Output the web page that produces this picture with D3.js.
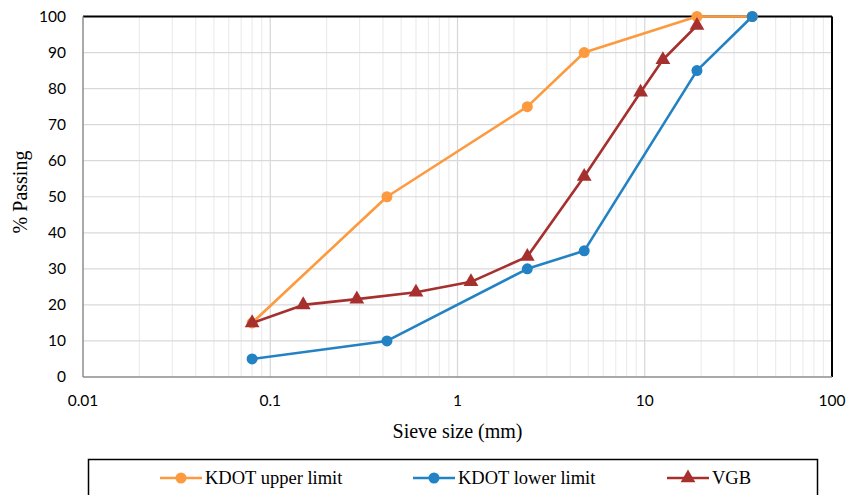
<!DOCTYPE html>
<html>
<head>
<meta charset="utf-8">
<script src="https://cdn.jsdelivr.net/npm/d3@7"></script>
<style>
  body { margin: 0; background: #fff; }
</style>
</head>
<body>
<div id="chart"></div>
<script>
// sieve sizes (mm) and % passing
var kdotSizes = [0.08, 0.42, 2.36, 4.75, 19, 37.5];
var upperLimit = [15, 50, 75, 90, 100, 100];
var lowerLimit = [5, 10, 30, 35, 85, 100];
var vgbSizes = [0.08, 0.15, 0.29, 0.6, 1.18, 2.36, 4.75, 9.5, 12.5, 19];
var vgbPassing = [15, 20, 21.6, 23.5, 26.4, 33.4, 55.6, 79, 88, 97.5];
var xTicks = [0.01, 0.1, 1, 10, 100];
var yTicks = [0, 10, 20, 30, 40, 50, 60, 70, 80, 90, 100];

var series = [
    {name: "KDOT upper limit", x: kdotSizes, y: upperLimit, color: "#fd9a3f", marker: "circle"},
    {name: "KDOT lower limit", x: kdotSizes, y: lowerLimit, color: "#2382c3", marker: "circle"},
    {name: "VGB", x: vgbSizes, y: vgbPassing, color: "#a6302e", marker: "triangle"}
];

var W = 846, H = 495;
var margin = {top: 16.5, left: 83, right: 14, bottom: 118};
var width = W - margin.left - margin.right,
    height = H - margin.top - margin.bottom;

var serif = "'Times New Roman', 'Liberation Serif', serif";
var tickFont = "Lato, 'Open Sans', sans-serif";

var svg = d3.select("#chart").append("svg")
    .attr("width", W)
    .attr("height", H);

var g = svg.append("g")
    .attr("transform", "translate(" + margin.left + "," + margin.top + ")");

var x = d3.scaleLog().domain([0.01, 100]).range([0, width]);
var y = d3.scaleLinear().domain([0, 100]).range([height, 0]);

// minor vertical gridlines
var minor = [];
for (var dec = 0.01; dec < 100; dec *= 10) {
    for (var k = 2; k <= 9; k++) minor.push(dec * k);
}
g.selectAll(".minor")
    .data(minor)
    .enter().append("line")
    .attr("x1", function (d) { return x(d); })
    .attr("x2", function (d) { return x(d); })
    .attr("y1", 0).attr("y2", height)
    .attr("stroke", "#ececec")
    .attr("stroke-width", 1.2);

// major gridlines
g.selectAll(".vmajor")
    .data(xTicks.slice(1, -1))
    .enter().append("line")
    .attr("x1", function (d) { return x(d); })
    .attr("x2", function (d) { return x(d); })
    .attr("y1", 0).attr("y2", height)
    .attr("stroke", "#d6d6d6")
    .attr("stroke-width", 1.2);

g.selectAll(".hmajor")
    .data(yTicks.slice(1))
    .enter().append("line")
    .attr("x1", 0).attr("x2", width)
    .attr("y1", function (d) { return y(d); })
    .attr("y2", function (d) { return y(d); })
    .attr("stroke", "#d9d9d9")
    .attr("stroke-width", 1.2);

// border: top/right black, left/bottom grey axes
g.append("line").attr("x1", 0).attr("x2", width).attr("y1", 0).attr("y2", 0)
    .attr("stroke", "#000").attr("stroke-width", 2);
g.append("line").attr("x1", width).attr("x2", width).attr("y1", 0).attr("y2", height)
    .attr("stroke", "#000").attr("stroke-width", 2);
g.append("line").attr("x1", 0).attr("x2", 0).attr("y1", 0).attr("y2", height)
    .attr("stroke", "#8c8c8c").attr("stroke-width", 1.5);
g.append("line").attr("x1", 0).attr("x2", width).attr("y1", height).attr("y2", height)
    .attr("stroke", "#8c8c8c").attr("stroke-width", 1.5);

// tick labels
g.selectAll(".ylab")
    .data(yTicks)
    .enter().append("text")
    .attr("x", -17)
    .attr("y", function (d) { return y(d); })
    .attr("dy", "0.35em")
    .attr("text-anchor", "end")
    .style("font-family", tickFont)
    .style("font-size", "15.5px")
    .attr("fill", "#000")
    .text(function (d) { return d; });

g.selectAll(".xlab")
    .data(xTicks)
    .enter().append("text")
    .attr("x", function (d) { return x(d); })
    .attr("y", height + 29)
    .attr("text-anchor", "middle")
    .style("font-family", tickFont)
    .style("font-size", "15.5px")
    .attr("fill", "#000")
    .text(function (d) { return d; });

// axis titles
svg.append("text")
    .attr("x", margin.left + x(1))
    .attr("y", 438)
    .attr("text-anchor", "middle")
    .style("font-family", serif)
    .style("font-size", "20px")
    .text("Sieve size (mm)");

svg.append("text")
    .attr("transform", "translate(27,192) rotate(-90)")
    .attr("text-anchor", "middle")
    .style("font-family", serif)
    .style("font-size", "20px")
    .text("% Passing");

var tri = d3.symbol().type(d3.symbolTriangle).size(95);

function drawMarker(sel, s) {
    if (s.marker === "circle") {
        sel.append("circle").attr("r", 5.5).attr("fill", s.color);
    } else {
        sel.append("path").attr("d", tri).attr("fill", s.color);
    }
}

var line = d3.line()
    .x(function (d) { return x(d[0]); })
    .y(function (d) { return y(d[1]); });

series.forEach(function (s) {
    var pts = s.x.map(function (v, i) { return [v, s.y[i]]; });
    g.append("path")
        .datum(pts)
        .attr("d", line)
        .attr("fill", "none")
        .attr("stroke", s.color)
        .attr("stroke-width", 2.6)
        .attr("stroke-linejoin", "round");
    g.selectAll(null)
        .data(pts)
        .enter().append("g")
        .attr("transform", function (d) { return "translate(" + x(d[0]) + "," + y(d[1]) + ")"; })
        .each(function () { drawMarker(d3.select(this), s); });
});

// legend
svg.append("rect")
    .attr("x", 88.5).attr("y", 459.5)
    .attr("width", 729).attr("height", 60)
    .attr("fill", "#fff")
    .attr("stroke", "#000")
    .attr("stroke-width", 1.5);

var legendX = [160, 413, 667];
series.forEach(function (s, i) {
    var lg = svg.append("g").attr("transform", "translate(" + legendX[i] + ",478)");
    lg.append("line").attr("x1", 0).attr("x2", 42).attr("y1", 0).attr("y2", 0)
        .attr("stroke", s.color).attr("stroke-width", 2.6);
    var m = lg.append("g").attr("transform", "translate(21,0)");
    drawMarker(m, s);
    lg.append("text")
        .attr("x", 45)
        .attr("y", 0)
        .attr("dy", "0.35em")
        .style("font-family", serif)
        .style("font-size", "18.5px")
        .text(s.name);
});
</script>
</body>
</html>
